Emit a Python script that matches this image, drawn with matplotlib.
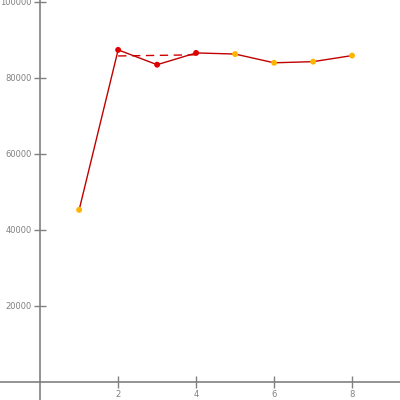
import matplotlib
matplotlib.use("Agg")
import matplotlib.pyplot as plt

# Series values
x_vals = [1, 2, 3, 4, 5, 6, 7, 8]
y_vals = [45300, 87400, 83500, 86600, 86300, 84000, 84300, 85900]
marker_colors = ["#ffb400", "#e00000", "#e00000", "#e00000",
                 "#ffb400", "#ffb400", "#ffb400", "#ffb400"]

# Dashed reference segment
ref_x = [2, 4]
ref_y = [85800, 86100]

x_ticks = [2, 4, 6, 8]
y_ticks = [20000, 40000, 60000, 80000, 100000]

fig = plt.figure(figsize=(4, 4), dpi=100)
ax = fig.add_axes([0, 0, 1, 1])
ax.set_xlim(-1.03, 9.23)
ax.set_ylim(-4737, 100526)

axis_color = "#808080"
for side in ("top", "right"):
    ax.spines[side].set_visible(False)
ax.spines["left"].set_position(("data", 0))
ax.spines["bottom"].set_position(("data", 0))
for side in ("left", "bottom"):
    ax.spines[side].set_color(axis_color)
    ax.spines[side].set_linewidth(1.2)

ax.set_xticks(x_ticks)
ax.set_yticks(y_ticks)
ax.set_xticklabels([str(v) for v in x_ticks])
ax.set_yticklabels([str(v) for v in y_ticks])
ax.tick_params(axis="both", direction="inout", length=8, width=1,
               colors=axis_color, labelsize=6, pad=2)

ax.plot(ref_x, ref_y, color="#d00000", linewidth=1, dashes=(6, 4), zorder=2)
ax.plot(x_vals, y_vals, color="#c00000", linewidth=1, zorder=3)
ax.scatter(x_vals, y_vals, c=marker_colors, s=18, zorder=4, linewidths=0)

fig.savefig("out.png", dpi=100)
